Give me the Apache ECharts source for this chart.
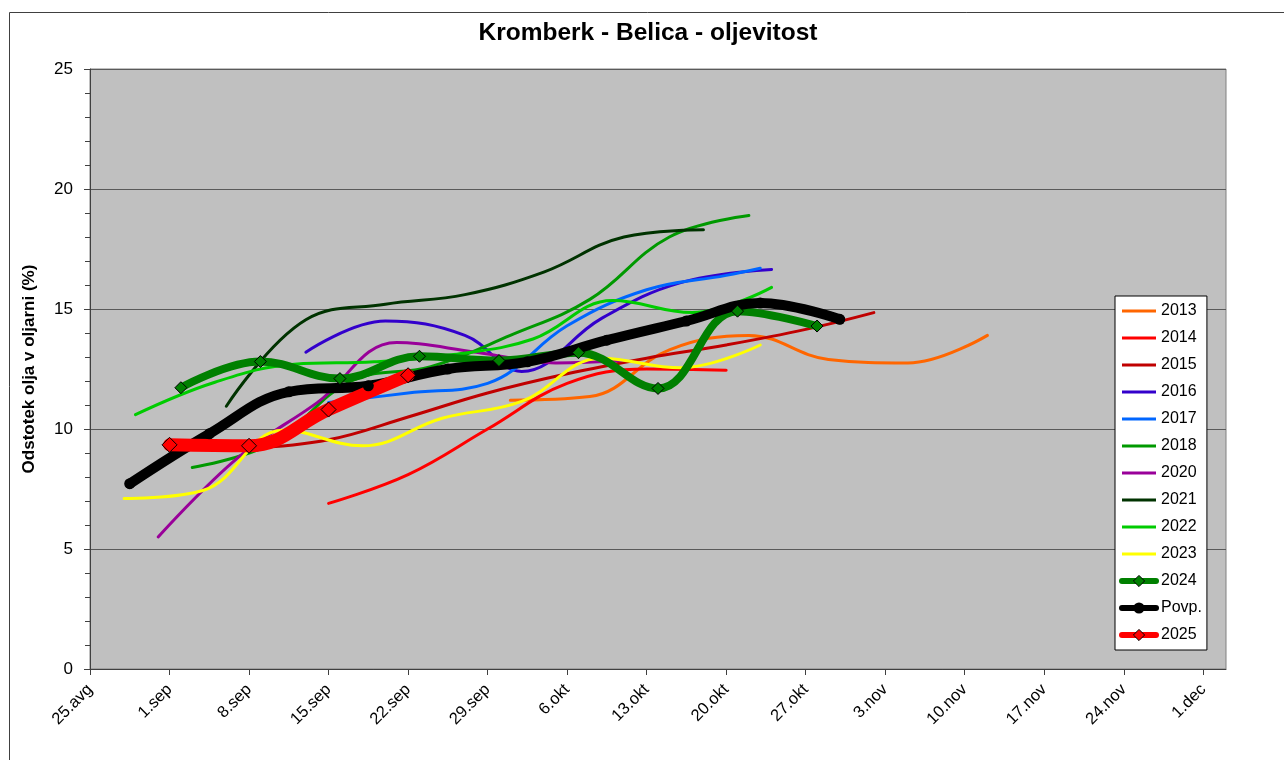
<!DOCTYPE html>
<html>
<head>
<meta charset="utf-8">
<script src="https://cdn.jsdelivr.net/npm/echarts@6/dist/echarts.min.js"></script>
<style>
html,body{margin:0;padding:0;background:#fff;}
#chart{width:1284px;height:760px;}
</style>
</head>
<body>
<div id="chart"></div>
<script>
// x = days after 25 Aug
const tickLabels = ['25.avg','1.sep','8.sep','15.sep','22.sep','29.sep','6.okt','13.okt','20.okt','27.okt','3.nov','10.nov','17.nov','24.nov','1.dec'];
const tickDays = tickLabels.map((_, i) => i * 7);

const s2013 = [[37,11.2],[44,11.35],[51,13.3],[58,13.9],[65,12.9],[72,12.75],[79,13.9]];
const s2014 = [[21,6.9],[28,8.1],[35,10.0],[42,11.9],[49,12.5],[56,12.45]];
const s2015 = [[14,9.2],[21,9.55],[28,10.5],[35,11.5],[42,12.3],[49,12.95],[56,13.5],[63,14.15],[69,14.85]];
const s2016 = [[19,13.2],[26,14.5],[33,13.9],[38,12.4],[45,14.6],[52,16.1],[60,16.65]];
const s2017 = [[21,11.1],[28,11.5],[35,11.9],[42,14.3],[49,15.8],[56,16.4],[59,16.7]];
const s2018 = [[9,8.4],[16,9.4],[23,12.0],[30,12.6],[37,13.9],[44,15.4],[51,18.0],[58,18.9]];
const s2020 = [[6,5.5],[13,8.8],[20,11.1],[27,13.6],[34,13.2],[41,12.75],[47,12.85]];
const s2021 = [[12,10.95],[19,14.55],[26,15.2],[33,15.6],[40,16.55],[47,18.0],[54,18.3]];
const s2022 = [[4,10.6],[11,11.95],[18,12.7],[25,12.8],[32,13.1],[39,13.75],[46,15.35],[53,14.85],[60,15.9]];
const s2023 = [[3,7.1],[10,7.45],[17,9.95],[24,9.3],[31,10.45],[38,11.15],[45,12.95],[52,12.55],[59,13.5]];
const s2024 = [[8,11.72],[15,12.81],[22,12.1],[29,13.03],[36,12.85],[43,13.18],[50,11.69],[57,14.91],[64,14.29]];
const sPovp = [[3.5,7.72],[10.5,9.8],[17.5,11.55],[24.5,11.8],[31.5,12.5],[38.5,12.8],[45.5,13.7],[52.5,14.5],[59,15.25],[66,14.57]];
const s2025 = [[7,9.34],[14,9.3],[21,10.81],[28,12.24]];

const FONT = '"Liberation Sans", Arial, sans-serif';

const thin = [
  ['2013', s2013, '#FF6600'],
  ['2014', s2014, '#FF0000'],
  ['2015', s2015, '#C00000'],
  ['2016', s2016, '#3300CC'],
  ['2017', s2017, '#0066FF'],
  ['2018', s2018, '#009900'],
  ['2020', s2020, '#990099'],
  ['2021', s2021, '#003300'],
  ['2022', s2022, '#00CC00'],
  ['2023', s2023, '#FFFF00']
];

const series = thin.map(([name, data, color]) => ({
  name, type: 'line', data, smooth: 0.4, symbol: 'none',
  itemStyle: {color},
  lineStyle: {color, width: 3, cap: 'round'}
}));
series.push({
  name: '2024', type: 'line', data: s2024, smooth: 0.4,
  symbol: 'diamond', symbolSize: 12,
  itemStyle: {color: '#008000', borderColor: '#000', borderWidth: 1},
  lineStyle: {color: '#008000', width: 8, cap: 'round'}
});
series.push({
  name: 'Povp.', type: 'line', data: sPovp, smooth: 0.4,
  symbol: 'circle', symbolSize: 11,
  itemStyle: {color: '#000'},
  lineStyle: {color: '#000', width: 10, cap: 'round'}
});
series.push({
  name: '2025', type: 'line', data: s2025, smooth: 0.4,
  symbol: 'diamond', symbolSize: 15,
  itemStyle: {color: '#FF0000', borderColor: '#000', borderWidth: 1},
  lineStyle: {color: '#FF0000', width: 13, cap: 'round'}
});

const legendData = thin.map(([name, , color]) => ({
  name, icon: 'path://M0 0H34V3H0Z', itemStyle: {color}
}));
legendData.push({name: '2024', lineStyle: {width: 6}, itemStyle: {color: '#008000', borderColor: '#000', borderWidth: 1}});
legendData.push({name: 'Povp.', lineStyle: {width: 6}, itemStyle: {color: '#000'}});
legendData.push({name: '2025', lineStyle: {width: 6}, itemStyle: {color: '#FF0000', borderColor: '#000', borderWidth: 1}});

const chart = echarts.init(document.getElementById('chart'), null, {renderer: 'canvas'});
chart.setOption({
  animation: false,
  backgroundColor: '#fff',
  graphic: [{
    type: 'rect', z: -10, silent: true,
    shape: {x: 9.5, y: 12.5, width: 1300, height: 800},
    style: {fill: 'none', stroke: '#404040', lineWidth: 1}
  }],
  title: {
    text: 'Kromberk - Belica - oljevitost',
    left: 648, top: 21, textAlign: 'center', padding: 0,
    textStyle: {fontSize: 24.5, fontWeight: 'bold', color: '#000', fontFamily: FONT}
  },
  grid: {
    left: 90, right: 58, top: 69, bottom: 91,
    show: true, backgroundColor: '#C0C0C0', borderColor: '#808080', borderWidth: 1
  },
  legend: {
    orient: 'vertical', left: 1115, top: 296,
    itemWidth: 34, itemHeight: 14, itemGap: 11,
    padding: [7, 5, 7, 4],
    backgroundColor: '#fff', borderColor: '#000', borderWidth: 1,
    selectedMode: false,
    textStyle: {fontSize: 16, color: '#000', fontFamily: FONT},
    data: legendData
  },
  xAxis: {
    type: 'value', min: 0, max: 100,
    axisLine: {show: true, lineStyle: {color: '#404040', width: 1}},
    axisTick: {show: true, length: 6, customValues: tickDays, lineStyle: {color: '#404040'}},
    axisLabel: {
      customValues: tickDays, rotate: 45, margin: 18,
      fontSize: 16.5, color: '#000', fontFamily: FONT,
      formatter: v => tickLabels[Math.round(v / 7)] || ''
    },
    splitLine: {show: false}
  },
  yAxis: {
    type: 'value', min: 0, max: 25, interval: 5,
    name: 'Odstotek olja v oljarni (%)',
    nameLocation: 'middle', nameGap: 52,
    nameTextStyle: {fontSize: 17, fontWeight: 'bold', color: '#000', fontFamily: FONT},
    axisLine: {show: true, lineStyle: {color: '#404040', width: 1}},
    axisTick: {show: true, length: 6, lineStyle: {color: '#404040'}},
    minorTick: {show: true, splitNumber: 5, length: 5, lineStyle: {color: '#404040'}},
    axisLabel: {fontSize: 17, color: '#000', margin: 17, fontFamily: FONT},
    splitLine: {show: true, lineStyle: {color: '#5a5a5a', width: 1}}
  },
  series
});
</script>
</body>
</html>
